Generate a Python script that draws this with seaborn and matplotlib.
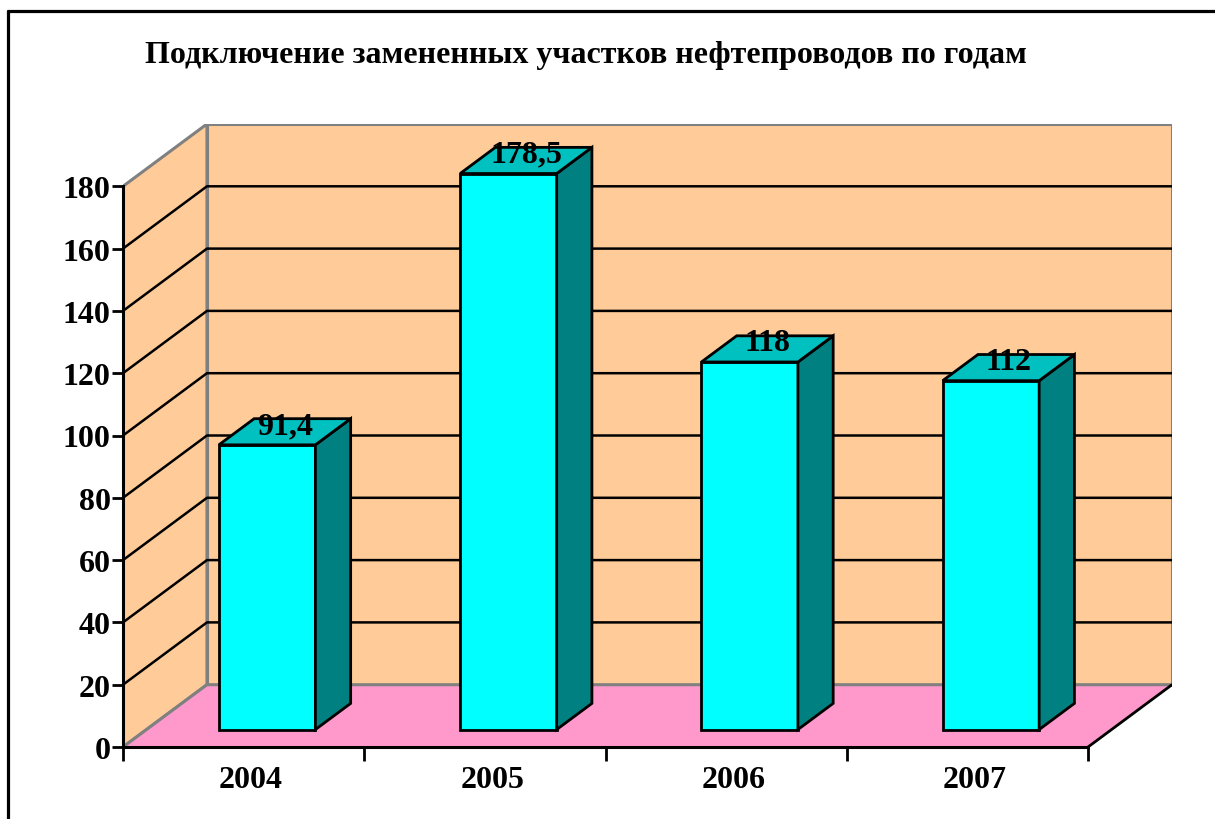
import numpy as np
import pandas as pd
import matplotlib
matplotlib.use("Agg")
import matplotlib.pyplot as plt
from matplotlib.patches import Polygon
from matplotlib.lines import Line2D
import seaborn as sns

# ---- data ----
years = ["2004", "2005", "2006", "2007"]
values = [91.4, 178.5, 118, 112]
value_labels = ["91,4", "178,5", "118", "112"]
y_ticks = [0, 20, 40, 60, 80, 100, 120, 140, 160, 180]
title = "Подключение замененных участков нефтепроводов по годам"

sns.set_style("white")
plt.rcParams["font.family"] = ["Liberation Serif", "DejaVu Serif"]
plt.rcParams["font.weight"] = "bold"
plt.rcParams["text.color"] = "black"
plt.rcParams["axes.labelcolor"] = "black"
plt.rcParams["xtick.color"] = "black"
plt.rcParams["ytick.color"] = "black"

W, H = 1215, 820
fig = plt.figure(figsize=(W / 100, H / 100), dpi=100)
fig.patch.set_facecolor("white")

# 3D geometry (in data units)
DX = 0.348      # depth shift in category units
DY = 20         # depth shift in value units
D0, D1 = 0.28, 0.70   # bar front/back depth fractions
BAR_W = 0.40
YMAX = 180
XL, XR = -0.5, len(years) - 0.5

ax = fig.add_axes([123 / W, (H - 748) / H, (1172 - 123) / W, (748 - 125) / H])
ax.patch.set_alpha(0)

df = pd.DataFrame({"year": years, "value": values})
n_before = len(ax.patches)
sns.barplot(data=df, x="year", y="value", ax=ax, width=BAR_W, color="#00FFFF",
            saturation=1, edgecolor="black", linewidth=2, zorder=4)
bars = ax.patches[n_before:]

wall_c = "#FFCC99"
floor_c = "#FF99CC"
edge_gray = "#808080"

# back wall
ax.add_patch(Polygon([(XL + DX, DY), (XR + DX, DY), (XR + DX, YMAX + DY), (XL + DX, YMAX + DY)],
                     closed=True, facecolor=wall_c, edgecolor=edge_gray, lw=2.2, zorder=0.5))
# side wall
ax.add_patch(Polygon([(XL, 0), (XL + DX, DY), (XL + DX, YMAX + DY), (XL, YMAX)],
                     closed=True, facecolor=wall_c, edgecolor=edge_gray, lw=2.2, zorder=0.6))
# floor
ax.add_patch(Polygon([(XL, 0), (XR, 0), (XR + DX, DY), (XL + DX, DY)],
                     closed=True, facecolor=floor_c, edgecolor="none", zorder=0.7))
ax.plot([XL, XL + DX, XR + DX], [0, DY, DY], color=edge_gray, lw=2.2, zorder=0.8)
ax.plot([XR, XR + DX], [0, DY], color="black", lw=2, zorder=0.9)

# gridlines on walls
for t in y_ticks[1:-1]:
    ax.plot([XL, XL + DX, XR + DX], [t, t + DY, t + DY], color="black", lw=1.8, zorder=1)

# bars: shift front faces into depth and add top / side faces
for p, v, lab in zip(bars, values, value_labels):
    p.set_x(p.get_x() + D0 * DX)
    p.set_y(D0 * DY)
    xl = p.get_x()
    xr = xl + p.get_width()
    dd = (D1 - D0)
    top = Polygon([(xl, v + D0 * DY), (xr, v + D0 * DY),
                   (xr + dd * DX, v + D1 * DY), (xl + dd * DX, v + D1 * DY)],
                  closed=True, facecolor="#00C0C0", edgecolor="black", lw=2, zorder=4)
    side = Polygon([(xr, D0 * DY), (xr, v + D0 * DY),
                    (xr + dd * DX, v + D1 * DY), (xr + dd * DX, D1 * DY)],
                   closed=True, facecolor="#008080", edgecolor="black", lw=2, zorder=4)
    ax.add_patch(side)
    ax.add_patch(top)
    ax.text((xl + xr) / 2 + dd * DX / 2, v + (D0 + 0.19) * DY, lab, ha="center", va="baseline",
            fontsize=23, fontweight="bold", color="black", zorder=6)

ax.set_xlim(XL, XR + DX)
ax.set_ylim(0, YMAX + DY)

# axes styling
for s in ["top", "right"]:
    ax.spines[s].set_visible(False)
ax.spines["left"].set_bounds(0, YMAX)
ax.spines["left"].set_linewidth(2.2)
ax.spines["left"].set_color("black")
ax.spines["left"].set_zorder(5)
ax.spines["bottom"].set_bounds(XL, XR)
ax.spines["bottom"].set_linewidth(2.2)
ax.spines["bottom"].set_color("black")
ax.spines["bottom"].set_zorder(5)

ax.set_yticks(y_ticks)
ax.set_yticklabels([str(t) for t in y_ticks])
ax.tick_params(axis="y", length=8, width=2, pad=1, labelsize=23, direction="out", left=True,
               colors="black")
ax.set_xticks(np.arange(len(years)) + 0.03)
ax.set_xticklabels(years)
ax.set_xticks(np.arange(len(years) + 1) - 0.5, minor=True)
ax.tick_params(axis="x", which="major", length=0, pad=13, labelsize=23, colors="black")
ax.tick_params(axis="x", which="minor", length=10, width=2, direction="out", bottom=True,
               colors="black")
ax.set_xlabel("")
ax.set_ylabel("")
for lbl in ax.get_xticklabels() + ax.get_yticklabels():
    lbl.set_fontweight("bold")

fig.text(586 / W, 1 - 55 / H, title, ha="center", va="center", fontsize=23, fontweight="bold",
         color="black")

# outer frame
fig.add_artist(Line2D([8 / W, 8 / W], [0, 1 - 12 / H], transform=fig.transFigure, color="black", lw=2.3))
fig.add_artist(Line2D([8 / W, 1], [1 - 12 / H, 1 - 12 / H], transform=fig.transFigure, color="black", lw=2.3))

fig.savefig("out.png", dpi=100)
